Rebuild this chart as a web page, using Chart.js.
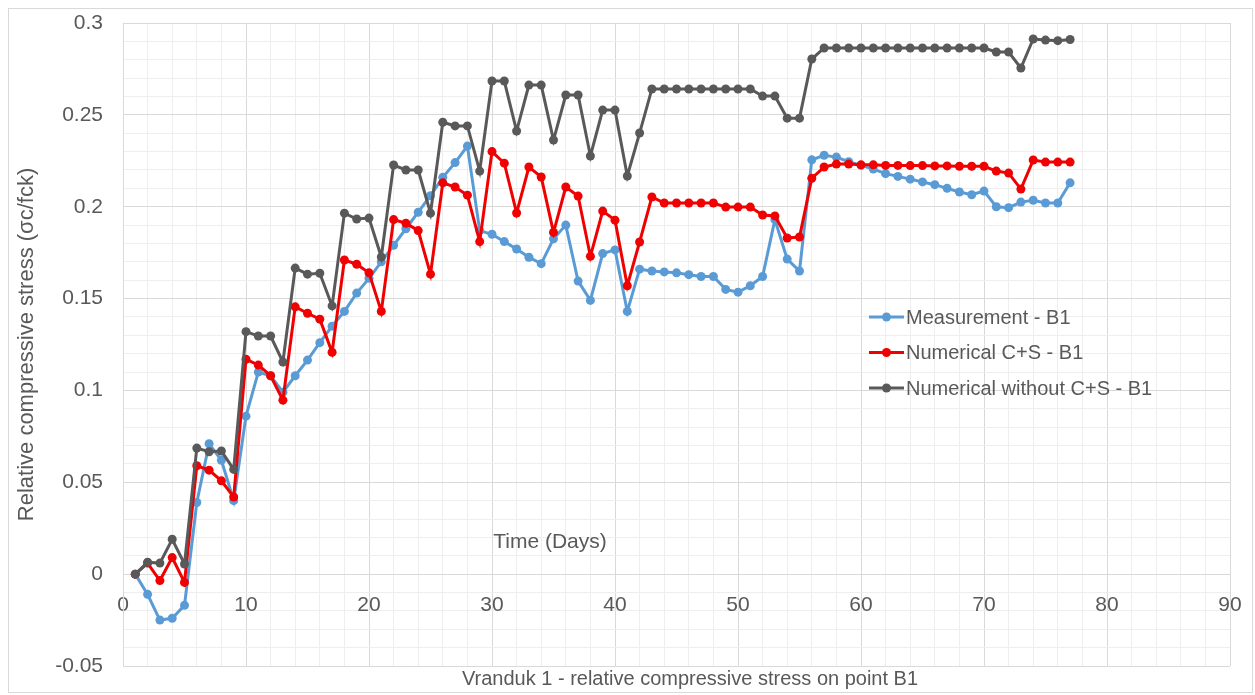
<!DOCTYPE html>
<html>
<head>
<meta charset="utf-8">
<title>Vranduk 1 - relative compressive stress on point B1</title>
<script src="https://cdn.jsdelivr.net/npm/chart.js@4.4.1/dist/chart.umd.min.js"></script>
<style>
  body { margin: 0; background: #fff; }
  #wrap { width: 1255px; height: 695px; }
</style>
</head>
<body>
<div id="wrap"><canvas id="stressChart" width="1255" height="695"></canvas></div>
<script>
// x = time in days, one reading per day
const days = [
  1, 2, 3, 4, 5, 6, 7, 8, 9, 10,
  11, 12, 13, 14, 15, 16, 17, 18, 19, 20,
  21, 22, 23, 24, 25, 26, 27, 28, 29, 30,
  31, 32, 33, 34, 35, 36, 37, 38, 39, 40,
  41, 42, 43, 44, 45, 46, 47, 48, 49, 50,
  51, 52, 53, 54, 55, 56, 57, 58, 59, 60,
  61, 62, 63, 64, 65, 66, 67, 68, 69, 70,
  71, 72, 73, 74, 75, 76, 77
];

const measurement = [
  0, -0.011, -0.025, -0.024, -0.017, 0.039, 0.071, 0.062, 0.040, 0.086,
  0.110, 0.108, 0.099, 0.108, 0.1165, 0.126, 0.135, 0.143, 0.153, 0.161,
  0.170, 0.179, 0.188, 0.197, 0.206, 0.216, 0.224, 0.233, 0.187, 0.185,
  0.181, 0.177, 0.1725, 0.169, 0.1825, 0.190, 0.1595, 0.149, 0.1745, 0.1765,
  0.143, 0.166, 0.165, 0.1645, 0.164, 0.163, 0.162, 0.162, 0.155, 0.1535,
  0.157, 0.162, 0.193, 0.1715, 0.165, 0.2255, 0.228, 0.227, 0.2245, 0.2225,
  0.2205, 0.218, 0.2165, 0.215, 0.2135, 0.212, 0.210, 0.208, 0.2065, 0.2085,
  0.200, 0.1995, 0.2025, 0.2035, 0.202, 0.202, 0.213
];

const numericalCS = [
  0, 0.006, -0.0035, 0.009, -0.0045, 0.059, 0.0566, 0.0508, 0.042, 0.117,
  0.1138, 0.108, 0.0947, 0.1455, 0.142, 0.1388, 0.1208, 0.171, 0.1687, 0.164,
  0.143, 0.193, 0.191, 0.187, 0.1633, 0.213, 0.2107, 0.2063, 0.181, 0.230,
  0.2237, 0.1966, 0.2216, 0.2162, 0.186, 0.2107, 0.2058, 0.173, 0.1976, 0.1927,
  0.157, 0.1808, 0.2053, 0.202, 0.202, 0.202, 0.202, 0.202, 0.1998, 0.1998,
  0.1998, 0.1955, 0.195, 0.183, 0.1835, 0.2155, 0.2216, 0.2232, 0.2232, 0.2228,
  0.2228, 0.2225, 0.2225, 0.2224, 0.2224, 0.2222, 0.2222, 0.222, 0.222, 0.222,
  0.2194, 0.2183, 0.2096, 0.2254, 0.2243, 0.2243, 0.2243
];

const numericalNoCS = [
  0, 0.0065, 0.006, 0.019, 0.0055, 0.0686, 0.0666, 0.067, 0.057, 0.132,
  0.1296, 0.1296, 0.1155, 0.1666, 0.1633, 0.1638, 0.146, 0.1965, 0.1933, 0.1938,
  0.1726, 0.2227, 0.220, 0.220, 0.1965, 0.246, 0.244, 0.244, 0.2194, 0.2684,
  0.2684, 0.2412, 0.2662, 0.2662, 0.2363, 0.2608, 0.2608, 0.2276, 0.2526, 0.2526,
  0.2167, 0.2401, 0.2641, 0.2641, 0.2641, 0.2641, 0.2641, 0.2641, 0.2641, 0.2641,
  0.2641, 0.2602, 0.2602, 0.2482, 0.2482, 0.2804, 0.2864, 0.2864, 0.2864, 0.2864,
  0.2864, 0.2864, 0.2864, 0.2864, 0.2864, 0.2864, 0.2864, 0.2864, 0.2864, 0.2864,
  0.2842, 0.2842, 0.2755, 0.2913, 0.2907, 0.2904, 0.291
];

const seriesNames = ['Measurement - B1', 'Numerical C+S - B1', 'Numerical without C+S - B1'];
const seriesColors = ['#5b9bd5', '#f00000', '#595959'];

const chartTitle = 'Vranduk 1 - relative compressive stress on point B1';
const xTitle = 'Time (Days)';
const yTitle = 'Relative compressive stress (\u03c3c/fck)';

const textColor = '#595959';
const fontFamily = "'Liberation Sans', Arial, sans-serif";
const majorGrid = '#d9d9d9';
const minorGrid = '#eeeeee';

function toPoints(values) {
  return days.map((d, i) => ({ x: d, y: values[i] }));
}

function makeDataset(idx, values, order) {
  return {
    label: seriesNames[idx],
    data: toPoints(values),
    borderColor: seriesColors[idx],
    backgroundColor: seriesColors[idx],
    borderWidth: 3,
    pointRadius: 4.5,
    pointBorderWidth: 0,
    pointBackgroundColor: seriesColors[idx],
    tension: 0,
    order: order
  };
}

// white background + light outer frame like the Excel chart area
const framePlugin = {
  id: 'frame',
  beforeDraw(chart) {
    const c = chart.ctx;
    c.save();
    c.fillStyle = '#fff';
    c.fillRect(0, 0, chart.width, chart.height);
    c.strokeStyle = '#d9d9d9';
    c.lineWidth = 1;
    c.strokeRect(8.5, 8.5, chart.width - 11, chart.height - 11);
    c.restore();
  }
};

// x caption inside the plot, bottom title and the legend box
const overlayPlugin = {
  id: 'overlay',
  afterDraw(chart) {
    const c = chart.ctx;
    c.save();
    c.fillStyle = textColor;
    c.textAlign = 'center';
    c.textBaseline = 'middle';
    c.font = '21px ' + fontFamily;
    c.fillText(xTitle, 550, 542);
    c.font = '20px ' + fontFamily;
    c.fillText(chartTitle, 690, 679);

    c.textAlign = 'left';
    seriesNames.forEach((name, i) => {
      const y = 317 + i * 35.5;
      c.strokeStyle = seriesColors[i];
      c.lineWidth = 3;
      c.beginPath();
      c.moveTo(869, y);
      c.lineTo(904, y);
      c.stroke();
      c.fillStyle = seriesColors[i];
      c.beginPath();
      c.arc(886.5, y, 4.5, 0, Math.PI * 2);
      c.fill();
      c.fillStyle = textColor;
      c.fillText(name, 906, y + 1);
    });
    c.restore();
  }
};

const ctx = document.getElementById('stressChart').getContext('2d');

new Chart(ctx, {
  type: 'line',
  data: {
    datasets: [
      makeDataset(0, measurement, 2),
      makeDataset(1, numericalCS, 1),
      makeDataset(2, numericalNoCS, 0)
    ]
  },
  options: {
    responsive: false,
    animation: false,
    devicePixelRatio: 1,
    layout: { padding: { left: 0, right: 25, top: 23, bottom: 29 } },
    plugins: {
      legend: { display: false },
      tooltip: { enabled: false },
      title: { display: false }
    },
    scales: {
      x: {
        type: 'linear',
        position: { y: 0 },
        min: 0,
        max: 90,
        grid: {
          drawTicks: true,
          tickLength: 18,
          tickColor: 'rgba(0,0,0,0)',
          color: c => (c.tick && c.tick.value % 10 === 0) ? majorGrid : minorGrid
        },
        border: { color: majorGrid, width: 1 },
        ticks: {
          stepSize: 2,
          autoSkip: false,
          maxRotation: 0,
          padding: 0,
          color: textColor,
          font: { family: fontFamily, size: 21 },
          callback: v => (v % 10 === 0 ? String(v) : '')
        }
      },
      y: {
        min: -0.05,
        max: 0.3,
        afterFit: scale => { scale.width = 123; },
        grid: {
          drawTicks: true,
          tickLength: 20,
          tickColor: 'rgba(0,0,0,0)',
          color: c => (c.tick && Math.round(c.tick.value * 100) % 5 === 0) ? majorGrid : minorGrid
        },
        border: { color: majorGrid, width: 1 },
        ticks: {
          stepSize: 0.01,
          autoSkip: false,
          padding: 0,
          color: textColor,
          font: { family: fontFamily, size: 21 },
          callback: v => {
            const r = Math.round(v * 100);
            return r % 5 === 0 ? String(r / 100) : '';
          }
        },
        title: {
          display: true,
          text: yTitle,
          color: textColor,
          font: { family: fontFamily, size: 22 },
          padding: { top: 14, bottom: 0 }
        }
      }
    }
  },
  plugins: [framePlugin, overlayPlugin]
});
</script>
</body>
</html>
